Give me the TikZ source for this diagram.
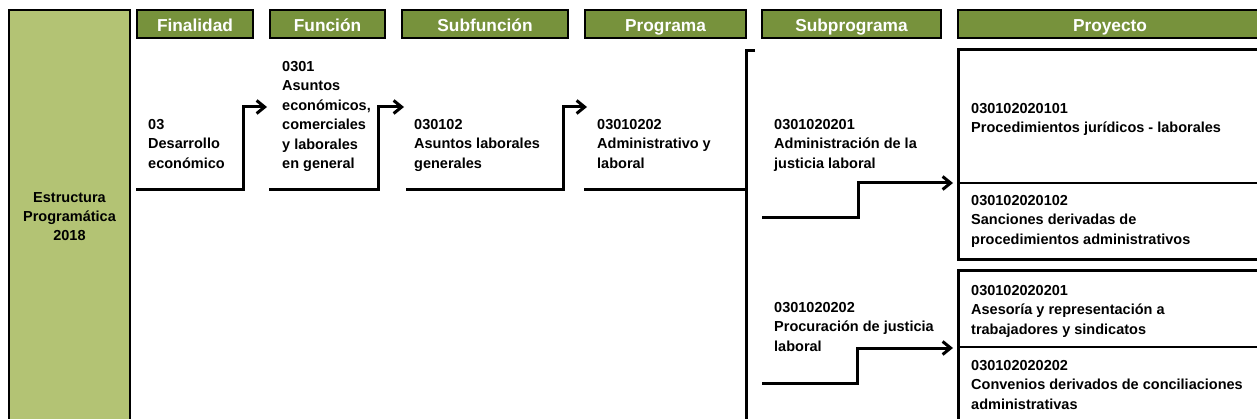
\documentclass[tikz,border=0pt]{standalone}
\usepackage{fontspec}
\setmainfont{Liberation Sans}
\usetikzlibrary{arrows.meta}
\definecolor{oliva}{HTML}{77923C}
\definecolor{olivaclaro}{HTML}{B3C374}

\begin{document}
\begin{tikzpicture}[x=1pt, y=-1pt,
    cab/.style = {draw=black, line width=1.2pt, fill=oliva, text=white, inner sep=0pt,
      minimum height=28pt, text height=15pt, text depth=0pt,
      font=\fontsize{17.3}{20}\selectfont\bfseries},
    txt/.style = {anchor=north west, inner sep=0pt, align=left,
      font=\fontsize{14.5}{19.5}\selectfont\bfseries},
    con/.style = {line width=3pt, -{Straight Barb[length=8pt, width=13pt]}},
    lin/.style = {line width=3pt}]
  \useasboundingbox (0,0) rectangle (1257,419);
  % bloque izquierdo
  \node[draw=black, line width=1.2pt, fill=olivaclaro, minimum width=121pt, minimum height=414pt,
    align=center, font=\fontsize{14.5}{19}\selectfont\bfseries] (estr) at (69.5,217)
    {Estructura\\Programática\\2018};
  % cabeceras
  \node[cab, minimum width=116pt] (hfin) at (195,24) {Finalidad};
  \node[cab, minimum width=115pt] (hfun) at (327.5,24) {Función};
  \node[cab, minimum width=166pt] (hsfun) at (485,24) {Subfunción};
  \node[cab, minimum width=161pt] (hprog) at (665.5,24) {Programa};
  \node[cab, minimum width=179pt] (hsprog) at (851.5,24) {Subprograma};
  \node[cab, minimum width=304pt] (hproy) at (1110,24) {Proyecto};
  % textos
  \node[txt] (fin) at (148,119) {03\\Desarrollo\\económico};
  \node[txt] (fun) at (282,61) {0301\\Asuntos\\económicos,\\comerciales\\y laborales\\en general};
  \node[txt] (sfun) at (414,119) {030102\\Asuntos laborales\\generales};
  \node[txt] (prog) at (597,119) {03010202\\Administrativo y\\laboral};
  \node[txt] (sprog1) at (774,119) {0301020201\\Administración de la\\justicia laboral};
  \node[txt] (sprog2) at (774,302) {0301020202\\Procuración de justicia\\laboral};
  % proyectos
  \draw[lin] (958,50) rectangle (1265,260);
  \draw[line width=2pt] (958,183) -- (1265,183);
  \draw[lin] (958,271) rectangle (1265,430);
  \draw[line width=2pt] (958,347) -- (1265,347);
  \node[txt] (p1) at (971,103) {030102020101\\Procedimientos jurídicos - laborales};
  \node[txt] (p2) at (971,195) {030102020102\\Sanciones derivadas de\\procedimientos administrativos};
  \node[txt] (p3) at (971,285) {030102020201\\Asesoría y representación a\\trabajadores y sindicatos};
  \node[txt] (p4) at (971,360) {030102020202\\Convenios derivados de conciliaciones\\administrativas};
  % conectores
  \draw[con] (hfin.west |- 0,190) -| (243,107) -- (267,107);
  \draw[con] (hfun.west |- 0,190) -| (378,107) -- (404,107);
  \draw[con] (406,190) -| (563,107) -- (587,107);
  \draw[lin] (hprog.west |- 0,190) -- (746,190);
  \draw[lin] (755,51) -- (746,51) -- (746,425);
  \draw[con] (762,218) -| (858,183) -- (953,183);
  \draw[con] (762,383) -| (857,348) -- (953,348);
\end{tikzpicture}
\end{document}
